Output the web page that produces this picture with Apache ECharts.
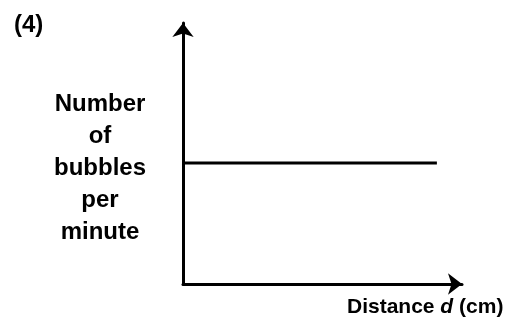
<!DOCTYPE html>
<html>
<head>
<meta charset="utf-8">
<script src="https://cdn.jsdelivr.net/npm/echarts@6/dist/echarts.min.js"></script>
<style>
html,body{margin:0;padding:0;background:#fff;}
#chart{width:505px;height:329px;}
</style>
</head>
<body>
<div id="chart"></div>
<script>
// sketch graph: bubbles per minute does not change with distance
var distance = [0, 9.1];
var bubbles = [4.64, 4.64];
var xRange = [0, 10];
var yRange = [0, 10];

var chart = echarts.init(document.getElementById('chart'));
var axisLineStyle = {
    show: true,
    symbol: ['none', 'arrow'],
    symbolSize: [16, 14],
    lineStyle: { color: '#000', width: 3 }
};
var option = {
    backgroundColor: '#fff',
    animation: false,
    title: {
        text: '(4)',
        left: 9,
        top: 8,
        textStyle: { fontFamily: 'Liberation Sans', fontSize: 24, fontWeight: 'bold', color: '#000' }
    },
    grid: { left: 183, right: 43, top: 23, bottom: 45 },
    xAxis: {
        type: 'value',
        min: xRange[0],
        max: xRange[1],
        axisLine: axisLineStyle,
        axisTick: { show: false },
        axisLabel: { show: false },
        splitLine: { show: false }
    },
    yAxis: {
        type: 'value',
        min: yRange[0],
        max: yRange[1],
        axisLine: axisLineStyle,
        axisTick: { show: false },
        axisLabel: { show: false },
        splitLine: { show: false }
    },
    graphic: [
        {
            type: 'text',
            x: 100,
            y: 88,
            style: {
                text: 'Number\nof\nbubbles\nper\nminute',
                fontFamily: 'Liberation Sans',
                fontSize: 24,
                fontWeight: 'bold',
                lineHeight: 32,
                fill: '#000',
                align: 'center',
                verticalAlign: 'top'
            }
        },
        {
            type: 'text',
            left: 347,
            top: 297,
            style: {
                text: '{n|Distance }{i|d}{n| (cm)}',
                rich: {
                    n: { fontFamily: 'Liberation Sans', fontSize: 21, fontWeight: 'bold', fill: '#000' },
                    i: { fontFamily: 'Liberation Sans', fontSize: 21, fontWeight: 'bold', fontStyle: 'italic', fill: '#000' }
                }
            }
        }
    ],
    series: [
        {
            type: 'line',
            data: distance.map(function (d, i) { return [d, bubbles[i]]; }),
            showSymbol: false,
            lineStyle: { color: '#000', width: 3 }
        }
    ]
};
chart.setOption(option);
</script>
</body>
</html>
